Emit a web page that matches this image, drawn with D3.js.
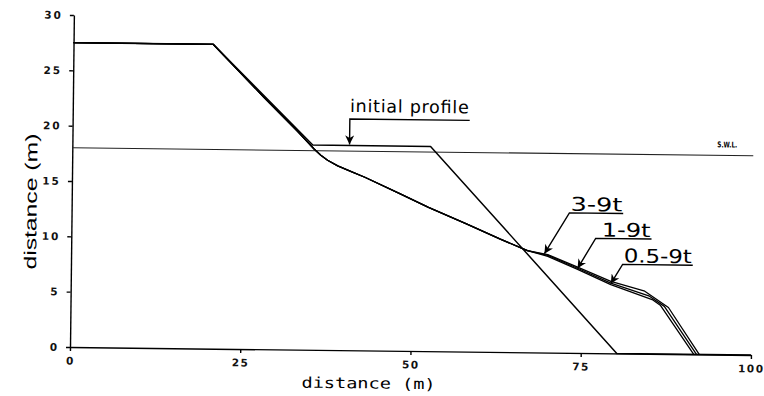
<!DOCTYPE html>
<html lang="en">
<head>
    <meta charset="UTF-8">
    <title>Profile development</title>
    <script src="https://d3js.org/d3.v7.min.js"></script>
    <style>
        body { margin: 0; background: #fff; }
        .axis path, .axis line { stroke: #000; stroke-width: 1.4px; }
        .axis text { font-family: "DejaVu Sans", sans-serif; font-size: 10.5px; font-weight: bold; fill: #111; }
        .profile { fill: none; stroke: #000; stroke-linejoin: round; }
        .note { font-family: "DejaVu Sans", sans-serif; fill: #000; }
    </style>
</head>
<body>
    <script>
        // axis ticks
        const xTicks = [0, 25, 50, 75, 100];
        const yTicks = [0, 5, 10, 15, 20, 25, 30];

        // still water level (m)
        const swl = 18;

        // initial profile
        const initialX = [0, 20.5, 35.3, 52.6, 80.3, 100];
        const initialY = [27.5, 27.5, 18.5, 18.5, 0, 0];

        // part of the eroded profiles that the three runs share
        const sharedX = [0, 20.5, 28, 33, 34.5, 35.5, 36.5, 37.5, 39, 41, 43, 48, 52.4, 58, 63, 67];
        const sharedY = [27.5, 27.5, 22.8, 19.75, 18.8, 18.15, 17.6, 17.15, 16.65, 16.15, 15.65, 14.25, 13.0, 11.55, 10.2, 9.2];

        // lower part for each run
        const runNames = ["3-9t", "1-9t", "0.5-9t"];
        const lowerX = [
            [70, 74.4, 79.3, 84.3, 87.8, 92.4],
            [70, 74.4, 79.3, 85.0, 87.2, 92.0],
            [70, 74.4, 79.3, 85.4, 86.6, 91.6]
        ];
        const lowerY = [
            [8.85, 7.75, 6.5, 5.65, 4.2, 0],
            [8.78, 7.65, 6.35, 5.2, 4.3, 0],
            [8.7, 7.55, 6.2, 4.9, 4.4, 0]
        ];

        // labels with leader arrows (m)
        const noteText = ["initial profile", "3-9t", "1-9t", "0.5-9t"];
        const noteX0 = [40.7, 73.1, 77.0, 81.0];
        const noteX1 = [58.3, 81.0, 85.2, 91.3];
        const noteY = [20.9, 12.65, 10.37, 8.05];
        const tipX = [40.7, 69.5, 74.4, 79.3];
        const tipY = [18.6, 8.93, 7.65, 6.3];

        const width = 764, height = 396;
        const svg = d3.select("body").append("svg")
            .attr("width", width)
            .attr("height", height);

        const x = d3.scaleLinear().domain([0, 100]).range([70, 751]);
        const y = d3.scaleLinear().domain([0, 30]).range([347, 15]);

        // the scanned figure is slightly tilted
        const g = svg.append("g")
            .attr("transform", `rotate(0.67, ${x(0)}, ${y(0)})`);

        svg.append("defs").append("marker")
            .attr("id", "arrow")
            .attr("viewBox", "0 0 10 10")
            .attr("refX", 10)
            .attr("refY", 5)
            .attr("markerUnits", "userSpaceOnUse")
            .attr("markerWidth", 11)
            .attr("markerHeight", 9)
            .attr("orient", "auto")
            .append("path")
            .attr("d", "M0,0 L10,5 L0,10 L3,5 Z")
            .attr("fill", "#000");

        // axes
        const xAxis = g.append("g")
            .attr("class", "axis")
            .attr("transform", `translate(0,${y(0)})`)
            .call(d3.axisBottom(x).tickValues(xTicks).tickSize(4).tickSizeOuter(0).tickPadding(6));
        xAxis.selectAll("text").attr("letter-spacing", "1.5px");

        const yAxis = g.append("g")
            .attr("class", "axis")
            .attr("transform", `translate(${x(0)},0)`)
            .call(d3.axisLeft(y).tickValues(yTicks).tickSize(4).tickSizeOuter(0).tickPadding(7));
        yAxis.selectAll("text").attr("letter-spacing", "2px");

        g.append("text")
            .attr("x", 369)
            .attr("y", 385)
            .attr("text-anchor", "middle")
            .attr("font-family", "DejaVu Sans Mono, monospace")
            .attr("font-size", 15)
            .attr("textLength", 134)
            .attr("lengthAdjust", "spacingAndGlyphs")
            .text("distance (m)");

        g.append("text")
            .attr("transform", "translate(35,202) rotate(-90)")
            .attr("text-anchor", "middle")
            .attr("font-family", "Liberation Sans, sans-serif")
            .attr("font-size", 17)
            .attr("textLength", 136)
            .attr("lengthAdjust", "spacingAndGlyphs")
            .text("distance (m)");

        // still water level
        g.append("line")
            .attr("x1", x(0)).attr("x2", x(100))
            .attr("y1", y(swl)).attr("y2", y(swl))
            .attr("stroke", "#222")
            .attr("stroke-width", 1.1);

        g.append("text")
            .attr("x", x(94.7))
            .attr("y", y(swl) - 8)
            .attr("font-family", "DejaVu Sans, sans-serif")
            .attr("font-size", 8)
            .attr("font-weight", "bold")
            .attr("textLength", 20)
            .attr("lengthAdjust", "spacingAndGlyphs")
            .text("S.W.L.");

        const line = d3.line()
            .x(d => x(d[0]))
            .y(d => y(d[1]));

        // eroded profiles
        runNames.forEach((name, i) => {
            const pts = d3.zip(sharedX.concat(lowerX[i]), sharedY.concat(lowerY[i]));
            g.append("path")
                .attr("class", "profile")
                .attr("d", line(pts))
                .attr("stroke-width", 1.3);
        });

        // initial profile
        g.append("path")
            .attr("class", "profile")
            .attr("d", line(d3.zip(initialX, initialY)))
            .attr("stroke-width", 1.5);

        // labels with leaders
        noteText.forEach((t, i) => {
            const big = i === 0;
            g.append("path")
                .attr("d", `M${x(noteX1[i])},${y(noteY[i])} L${x(noteX0[i])},${y(noteY[i])} L${x(tipX[i])},${y(tipY[i])}`)
                .attr("fill", "none")
                .attr("stroke", "#000")
                .attr("stroke-width", 1.4)
                .attr("marker-end", "url(#arrow)");

            const tx0 = big ? x(noteX0[i]) : (i === 2 ? x(noteX0[i]) + 6 : x(noteX0[i]) + 1);
            g.append("text")
                .attr("class", "note")
                .attr("x", tx0)
                .attr("y", y(noteY[i]) - (big ? 7 : 2))
                .attr("font-size", big ? 17.5 : 19)
                .attr("textLength", x(noteX1[i]) - tx0 - 1)
                .attr("lengthAdjust", big ? "spacing" : "spacingAndGlyphs")
                .text(t);
        });
    </script>
</body>
</html>
